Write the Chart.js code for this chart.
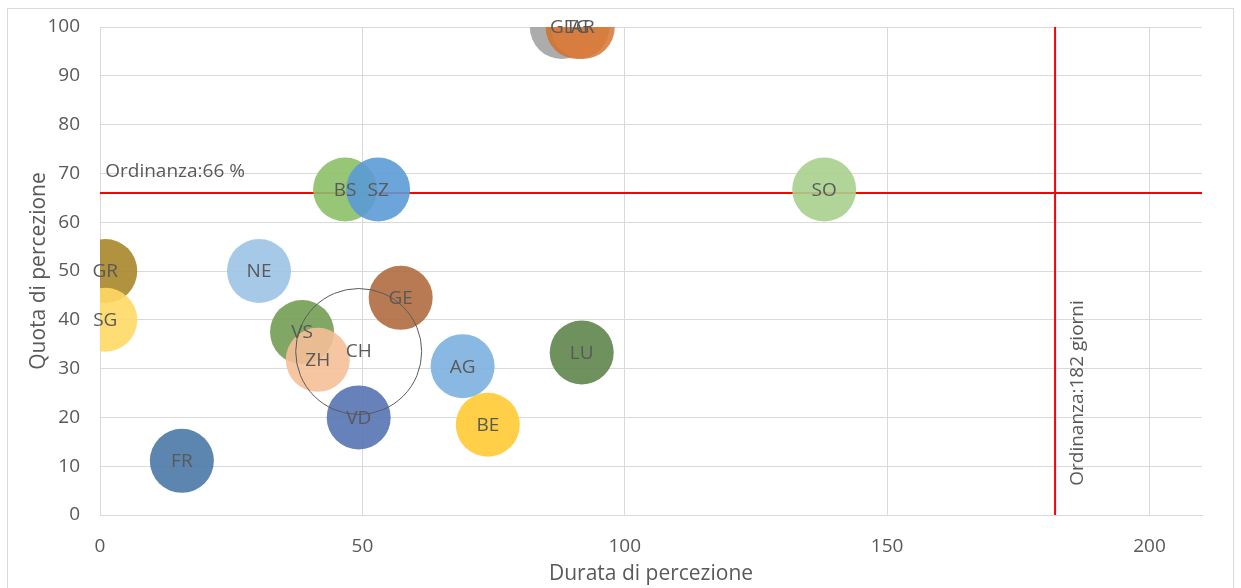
<!DOCTYPE html>
<html>
<head>
<meta charset="utf-8">
<script src="https://cdn.jsdelivr.net/npm/chart.js@4.4.1/dist/chart.umd.min.js"></script>
<style>
  html, body { margin: 0; padding: 0; background: #fff; }
  #wrap { position: absolute; left: 0; top: 0; width: 1241px; height: 588px; }
  #frame { position: absolute; left: 7px; top: 8px; width: 1225px; height: 590px; border: 1px solid #d9d9d9; pointer-events: none; }
</style>
</head>
<body>
<div id="wrap"><canvas id="chart-bolle" width="1241" height="588"></canvas></div>
<div id="frame"></div>
<script>
/* ---------- Dati ---------- */
const cantoni = ['GL', 'TG', 'AR', 'BS', 'SZ', 'SO', 'GR', 'SG', 'NE', 'GE', 'VS', 'ZH', 'AG', 'BE', 'LU', 'VD', 'FR'];
const durata  = [88, 91, 92, 46.7, 53, 138, 1, 1, 30.3, 57.3, 38.5, 41.5, 69.1, 73.9, 91.8, 49.3, 15.6];
const quota   = [100, 100, 100, 66.7, 66.7, 66.7, 50, 40, 50, 44.5, 37.5, 31.8, 30.5, 18.5, 33.3, 20, 11.1];

const svizzera = { nome: 'CH', durata: 49.3, quota: 33.5 };

const sogliaQuota  = 66;   // Ordinanza: 66 %
const sogliaGiorni = 182;  // Ordinanza: 182 giorni

const ticksX = [0, 50, 100, 150, 200];
const ticksY = [0, 10, 20, 30, 40, 50, 60, 70, 80, 90, 100];

/* ---------- Colori ---------- */
const colori = {
  GL: '#a3a3a3', TG: '#cf7434', AR: '#d77d3f', BS: '#8cc068', SZ: '#5b9bd5', SO: '#a8d08d',
  GR: '#a8862a', SG: '#ffd966', NE: '#9dc3e6', GE: '#b06c40', VS: '#729d52', ZH: '#f5bf97',
  AG: '#7cb0df', BE: '#ffcb33', LU: '#5e854b', VD: '#5673b2', FR: '#4a78a6'
};
const testo = '#595959';
const griglia = '#d9d9d9';
const FONT = "'Open Sans', sans-serif";

function alpha(hex, a) {
  const n = parseInt(hex.slice(1), 16);
  return `rgba(${n >> 16},${(n >> 8) & 255},${n & 255},${a})`;
}

/* ---------- Etichette nelle bolle e delle soglie ---------- */
const etichette = {
  id: 'etichette',
  afterDatasetsDraw(chart) {
    const { ctx, scales: { x, y } } = chart;
    ctx.save();
    ctx.fillStyle = testo;
    ctx.font = `19px ${FONT}`;
    ctx.textAlign = 'center';
    ctx.textBaseline = 'middle';
    const ds0 = chart.getDatasetMeta(0);
    ds0.data.forEach((el, i) => ctx.fillText(cantoni[i], el.x, el.y + 1));
    const ch = chart.getDatasetMeta(1).data[0];
    ctx.fillText(svizzera.nome, ch.x, ch.y);

    // soglia orizzontale
    ctx.textAlign = 'left';
    ctx.fillText('Ordinanza:66 %', x.getPixelForValue(1), y.getPixelForValue(sogliaQuota) - 21);
    // soglia verticale
    ctx.translate(x.getPixelForValue(sogliaGiorni) + 23, y.getPixelForValue(25));
    ctx.rotate(-Math.PI / 2);
    ctx.textAlign = 'center';
    ctx.fillText('Ordinanza:182 giorni', 0, 0);
    ctx.restore();
  }
};

new Chart(document.getElementById('chart-bolle'), {
  type: 'bubble',
  data: {
    datasets: [
      {
        label: 'Cantoni',
        data: cantoni.map((c, i) => ({ x: durata[i], y: quota[i] })),
        radius: 32,
        backgroundColor: cantoni.map(c => alpha(colori[c], 0.9)),
        borderWidth: 0,
        clip: 0,
        order: 2
      },
      {
        label: 'CH',
        data: [{ x: svizzera.durata, y: svizzera.quota }],
        radius: 63,
        backgroundColor: 'rgba(0,0,0,0)',
        borderColor: '#5a5a5a',
        borderWidth: 1,
        clip: 0,
        order: 1
      },
      {
        type: 'line',
        label: 'Soglia quota',
        data: [{ x: 0, y: sogliaQuota }, { x: 210, y: sogliaQuota }],
        borderColor: '#ff0000',
        borderWidth: 2,
        pointRadius: 0,
        order: 10
      },
      {
        type: 'line',
        label: 'Soglia durata',
        data: [{ x: sogliaGiorni, y: 0 }, { x: sogliaGiorni, y: 100 }],
        borderColor: '#ff0000',
        borderWidth: 2,
        pointRadius: 0,
        order: 10
      }
    ]
  },
  options: {
    responsive: false,
    animation: false,
    layout: { autoPadding: false, padding: { top: 27, right: 39, left: 0, bottom: 0 } },
    plugins: { legend: { display: false }, tooltip: { enabled: false } },
    scales: {
      x: {
        type: 'linear', min: 0, max: 210,
        afterBuildTicks: s => { s.ticks = ticksX.map(v => ({ value: v })); },
        afterFit: s => { s.height = 73; s.paddingLeft = 0; s.paddingRight = 0; },
        grid: { color: griglia, drawTicks: false },
        border: { color: griglia },
        ticks: { color: testo, font: { family: FONT, size: 19 }, padding: 20 },
        title: { display: true, text: 'Durata di percezione', color: testo,
                 font: { family: FONT, size: 21 }, padding: { top: 0, bottom: 1 } }
      },
      y: {
        type: 'linear', min: 0, max: 100,
        afterBuildTicks: s => { s.ticks = ticksY.map(v => ({ value: v })); },
        afterFit: s => { s.width = 100; s.paddingTop = 0; s.paddingBottom = 0; },
        grid: { color: griglia, drawTicks: false },
        border: { color: griglia },
        ticks: { color: testo, font: { family: FONT, size: 19 }, padding: 20 },
        title: { display: true, text: 'Quota di percezione', color: testo,
                 font: { family: FONT, size: 21 }, padding: { top: 26, bottom: 0 } }
      }
    }
  },
  plugins: [etichette]
});
</script>
</body>
</html>
